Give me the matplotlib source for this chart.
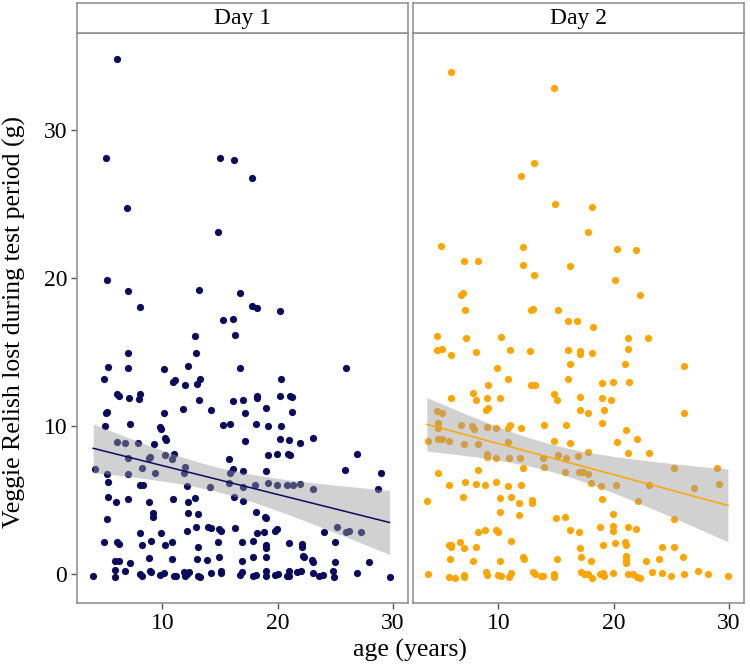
import matplotlib
matplotlib.use("Agg")
import matplotlib.pyplot as plt
import numpy as np

plt.rcParams["font.family"] = ["Liberation Serif", "DejaVu Serif"]

DAY_LABELS = ["Day 1", "Day 2"]
DAY_COLORS = ["#0b0b5e", "#ffa500"]
X_TICKS = [10, 20, 30]
Y_TICKS = [0, 10, 20, 30]
X_LABEL = "age (years)"
Y_LABEL = "Veggie Relish lost during test period (g)"

# values, grouped in horizontal bands from top to bottom
day1_age = [
    6.1, 5.1, 15.0, 16.2, 17.8, 6.9, 14.8, 5.2, 7.0, 13.2, 16.7, 8.1, 17.8, 18.2, 20.2, 15.3, 16.1,
    12.8, 16.3, 7.0, 12.9, 5.3, 7.0, 10.1, 12.2, 16.7, 25.9, 4.9, 10.9, 11.1, 12.0, 13.3, 13.0, 20.3,
    6.1, 6.2, 8.1, 8.0, 7.1, 13.2, 16.1, 17.0, 18.2, 18.2, 20.2, 21.1, 21.2,
    19.0, 11.8, 14.2, 21.2, 5.1, 5.2, 10.1, 17.2,
    5.0, 7.2, 9.8, 9.9, 15.3, 15.9, 18.1, 19.2, 20.3,
    10.2, 10.3, 17.2, 20.2, 21.0, 23.1, 6.1, 6.8, 7.9, 9.3, 21.9,
    4.2, 7.0, 8.8, 8.9, 10.2, 11.0, 10.8, 15.8, 19.2, 19.9, 20.9, 21.1, 26.9,
    5.2, 7.0, 8.2, 9.4, 12.0, 11.9, 16.1, 15.9, 17.0, 19.0, 25.8, 29.0,
    5.3, 8.1, 8.3, 12.1, 14.1, 15.8, 17.0, 18.0, 19.2, 19.9, 20.8, 21.3, 21.9, 23.1, 28.7,
    5.3, 7.0, 6.0, 8.8, 10.9, 12.8, 12.2, 16.2, 17.0,
    5.2, 9.2, 9.2, 12.2, 13.1, 18.1, 18.9, 19.0,
    12.9, 14.0, 14.2, 14.9, 15.1, 16.3, 8.1, 9.9, 12.1, 18.2, 18.8, 19.8, 19.9, 24.0, 25.1, 25.9, 26.2, 27.2,
    4.9, 6.1, 6.2, 8.2, 9.0, 10.2, 10.8, 13.1, 14.8, 16.9, 17.9, 19.0, 19.0, 21.0, 22.1, 22.1, 25.0,
    5.9, 6.2, 7.2, 8.8, 10.8, 13.0, 13.9, 14.9, 16.9, 17.9, 19.0, 22.2, 22.3, 23.0, 23.1, 25.0, 27.9,
    4.0, 5.9, 5.9, 6.8, 8.1, 8.2, 8.9, 9.0, 9.8, 10.1, 11.0, 11.2, 11.9, 12.1, 12.0, 12.3, 13.1, 13.3,
    14.2, 15.1, 15.1, 16.7, 16.9, 17.9, 18.1, 19.0, 19.0, 19.8, 20.0, 20.8, 21.0, 21.0, 21.7, 22.0,
    23.1, 23.6, 23.9, 24.8, 24.9, 26.9, 29.7,
]
day1_relish = [
    34.78, 28.13, 28.13, 27.99, 26.73, 24.75, 23.09, 19.84, 19.14, 19.19, 19.0, 18.04, 18.1, 17.95, 17.8, 17.16, 17.23,
    16.1, 16.17, 14.95, 14.95, 14.0, 13.9, 13.85, 14.05, 13.9, 13.94, 13.15, 12.95, 13.1, 12.77, 13.17, 12.84, 13.2,
    12.16, 12.03, 12.16, 11.8, 11.9, 11.76, 11.7, 11.76, 12.05, 11.87, 12.05, 12.03, 11.96,
    11.2, 11.17, 11.08, 10.95, 10.86, 10.93, 10.9, 10.86,
    10.02, 10.14, 9.95, 9.82, 10.05, 10.14, 10.11, 10.02, 10.02,
    9.17, 9.03, 8.97, 9.14, 9.03, 9.21, 8.92, 8.83, 8.87, 8.76, 8.87,
    7.12, 7.84, 7.84, 7.93, 8.02, 8.1, 7.8, 7.8, 8.04, 8.09, 8.1, 8.04, 8.1,
    6.76, 6.76, 7.16, 6.85, 7.23, 6.82, 7.1, 6.8, 6.96, 6.94, 7.03, 6.8,
    6.22, 6.01, 6.01, 5.92, 5.9, 6.12, 5.86, 6.01, 6.12, 6.0, 6.0, 6.0, 6.1, 5.76, 5.76,
    5.18, 5.05, 4.86, 4.86, 5.05, 5.14, 4.86, 5.22, 4.95,
    3.74, 4.12, 3.85, 4.1, 4.07, 4.21, 3.87, 3.78,
    3.2, 3.18, 3.13, 3.02, 2.9, 3.13, 2.77, 2.77, 2.88, 2.77, 2.82, 2.93, 3.06, 2.84, 3.2, 2.82, 2.93, 2.84,
    2.14, 2.14, 2.0, 1.96, 2.21, 1.94, 2.16, 1.84, 2.14, 2.14, 2.21, 1.94, 1.78, 2.07, 2.05, 1.84, 2.18,
    0.88, 0.88, 0.77, 1.08, 1.01, 0.99, 0.93, 1.17, 0.86, 1.17, 1.15, 1.22, 1.13, 0.97, 0.79, 0.79, 0.83,
    -0.11, 0.25, -0.2, 0.2, 0.0, -0.13, 0.2, 0.1, -0.07, 0.09, -0.16, -0.16, 0.1, 0.0, -0.15, 0.1, -0.13, -0.2,
    0.04, 0.18, 0.04, -0.07, 0.16, -0.11, -0.07, 0.2, -0.16, -0.1, 0.0, -0.16, -0.13, 0.2, 0.13, 0.18,
    0.04, -0.15, -0.07, 0.22, -0.2, 0.04, -0.2,
]

day2_age = [
    5.9, 14.8, 13.1, 12.0, 14.9, 18.1, 17.8, 5.0, 12.1, 20.3, 21.9, 7.0, 8.2, 12.1, 16.2, 13.1, 20.1, 6.8, 6.9, 22.3,
    7.1, 12.8, 13.0, 15.2, 16.0, 16.8, 18.2,
    4.7, 7.2, 10.2, 21.2, 23.0, 4.7, 5.1, 5.9, 8.1, 11.0, 12.7, 16.0, 17.1, 17.1, 18.1, 21.2,
    16.2, 21.0, 26.1, 9.9, 10.8, 16.0, 19.0, 19.9, 21.3, 12.8, 13.2, 9.1,
    7.8, 5.9, 8.1, 9.0, 10.1, 14.8, 15.1, 17.1, 19.0, 19.8,
    8.9, 9.1, 17.1, 17.8, 19.2, 26.1, 4.7, 5.1,
    4.8, 4.8, 6.8, 7.7, 7.9, 9.0, 9.8, 10.8, 11.0, 12.0, 14.0, 15.9, 19.0, 21.1,
    3.9, 4.8, 5.1, 5.7, 7.0, 8.2, 10.8, 14.8, 16.2, 20.3, 22.0,
    9.0, 9.0, 9.8, 10.9, 11.9, 13.9, 15.2, 15.9, 16.9, 17.8, 21.2, 23.1,
    4.8, 8.2, 12.1, 14.0, 15.8, 17.0, 17.3, 17.8, 25.2, 29.0,
    5.7, 7.1, 8.1, 8.8, 9.8, 10.8, 12.0, 18.0, 18.9, 20.2, 23.1, 27.0, 29.1,
    3.8, 6.9, 10.1, 11.1, 11.8, 12.9, 12.9, 19.0, 22.1,
    10.1, 11.8, 15.0, 15.8, 19.9, 25.2,
    8.2, 8.8, 9.8, 10.0, 16.2, 17.0, 18.8, 19.9, 19.9, 21.2, 21.9,
    5.7, 5.9, 5.9, 6.7, 7.0, 8.1, 11.1, 17.1, 19.1, 20.1, 21.0, 21.1, 24.2, 25.2,
    5.8, 7.8, 10.1, 12.1, 12.2, 15.1, 17.2, 18.0, 21.1, 21.1, 21.1, 22.8, 23.9, 26.0,
    3.9, 5.7, 6.2, 7.0, 7.0, 8.9, 9.0, 10.0, 10.2, 10.9, 11.1, 13.0, 13.2, 13.7, 13.9, 14.8, 14.8, 17.2,
    17.4, 17.8, 18.1, 18.8, 19.1, 19.2, 19.9, 21.2, 21.7, 22.0, 22.3, 23.3, 24.2, 25.0, 26.1, 27.3,
    28.2, 29.9,
]
day2_relish = [
    33.94, 32.86, 27.77, 26.89, 24.98, 24.82, 23.13, 22.18, 22.12, 21.96, 21.87, 21.13, 21.17, 20.88, 20.79, 20.18, 19.89, 18.83, 18.97, 18.87,
    17.84, 17.84, 17.9, 17.84, 17.07, 17.09, 16.71,
    16.08, 15.97, 16.03, 15.95, 15.92, 15.14, 15.18, 14.78, 15.02, 15.14, 15.05, 15.16, 15.07, 14.88, 14.93, 15.18,
    14.19, 14.21, 14.08, 13.9, 13.2, 13.2, 12.9, 12.95, 12.97, 12.75, 12.75, 12.75,
    12.21, 11.89, 11.76, 11.91, 11.91, 12.18, 11.76, 11.98, 11.91, 11.78,
    11.08, 11.22, 11.06, 10.86, 11.06, 10.86, 11.0, 10.86,
    10.22, 9.89, 10.09, 10.02, 9.82, 9.91, 9.86, 9.89, 10.07, 9.89, 10.05, 10.05, 10.2, 9.75,
    9.01, 9.14, 9.1, 9.01, 8.8, 8.76, 8.94, 8.99, 8.85, 8.92, 9.1,
    8.13, 7.93, 7.86, 7.86, 7.82, 7.86, 8.02, 7.82, 7.99, 8.24, 8.2, 8.2,
    6.8, 7.0, 7.16, 7.21, 6.91, 6.89, 6.89, 6.78, 7.18, 7.14,
    6.03, 6.22, 6.08, 6.03, 6.22, 5.92, 6.03, 6.15, 5.95, 6.03, 5.99, 5.81, 6.06,
    4.95, 5.22, 5.16, 5.22, 4.8, 4.98, 4.8, 5.05, 4.95,
    4.21, 3.99, 3.78, 3.87, 4.03, 3.74,
    2.84, 2.97, 2.97, 2.84, 2.97, 2.82, 3.2, 3.24, 2.9, 3.18, 3.06,
    1.96, 1.94, 1.82, 2.16, 1.74, 1.82, 2.23, 1.78, 1.98, 2.11, 2.16, 1.96, 1.84, 1.82,
    0.99, 0.9, 0.9, 1.13, 1.01, 1.03, 1.13, 0.9, 1.22, 0.97, 0.74, 0.9, 0.99, 1.13,
    0.02, -0.22, -0.29, -0.09, -0.2, 0.16, -0.07, -0.04, -0.13, -0.2, 0.04, 0.14, -0.02, -0.13, -0.13, -0.18, -0.02, 0.14,
    0.0, 0.0, -0.29, 0.0, 0.09, -0.13, 0.09, -0.02, -0.02, -0.18, -0.25, 0.11, 0.07, -0.13, -0.02, 0.2,
    0.0, -0.13,
]

# fitted lines as drawn in the picture: (intercept, slope)
day1_fit = [9.27, -0.195]
day2_fit = [10.91, -0.210]

T_95 = 1.97
BORDER = "#8c8c8c"


def fit_band(x, y, fit):
    x = np.asarray(x, dtype=float)
    y = np.asarray(y, dtype=float)
    intercept, slope = fit
    grid = np.linspace(x.min(), x.max(), 80)
    fitted = intercept + slope * grid
    resid = y - (intercept + slope * x)
    n = len(x)
    s = np.sqrt(np.sum(resid ** 2) / (n - 2))
    sxx = np.sum((x - x.mean()) ** 2)
    se = s * np.sqrt(1 / n + (grid - x.mean()) ** 2 / sxx)
    return grid, fitted, fitted - T_95 * se, fitted + T_95 * se


def draw_panel(fig, rect, label, ages, values, fit, color, show_y):
    ax = fig.add_axes(rect)
    ax.scatter(ages, values, s=27, color=color, linewidths=0, zorder=2)
    grid, fitted, low, high = fit_band(ages, values, fit)
    ax.fill_between(grid, low, high, color="#999999", alpha=0.45, linewidth=0, zorder=3)
    ax.plot(grid, fitted, color=color, linewidth=1.1, zorder=4)
    ax.set_xlim(2.6, 31.3)
    ax.set_ylim(-1.96, 36.55)
    ax.set_xticks(X_TICKS)
    ax.set_yticks(Y_TICKS)
    for spine in ax.spines.values():
        spine.set_color(BORDER)
        spine.set_linewidth(1.1)
    ax.tick_params(axis="both", direction="out", length=4, width=1, color="#555555",
                   labelsize=17, pad=3)
    if not show_y:
        ax.tick_params(axis="y", left=False, labelleft=False)

    # facet strip on top of the panel
    x0, y0, w, h = rect
    strip = fig.add_axes([x0, y0 + h, w, 0.0452])
    strip.set_xticks([])
    strip.set_yticks([])
    for spine in strip.spines.values():
        spine.set_color(BORDER)
        spine.set_linewidth(1.1)
    strip.text(0.5, 0.47, label, ha="center", va="center", fontsize=17, transform=strip.transAxes)
    return ax


fig = plt.figure(figsize=(7.5, 6.64), dpi=100)
fig.patch.set_facecolor("white")

draw_panel(fig, [0.1027, 0.0919, 0.4413, 0.8584], DAY_LABELS[0], day1_age, day1_relish, day1_fit, DAY_COLORS[0], True)
draw_panel(fig, [0.5507, 0.0919, 0.4413, 0.8584], DAY_LABELS[1], day2_age, day2_relish, day2_fit, DAY_COLORS[1], False)

fig.text(0.547, 0.021, X_LABEL, ha="center", va="center", fontsize=18.5)
fig.text(0.019, 0.515, Y_LABEL, ha="center", va="center", rotation=90, fontsize=18.5)

fig.savefig("out.png", dpi=100)
